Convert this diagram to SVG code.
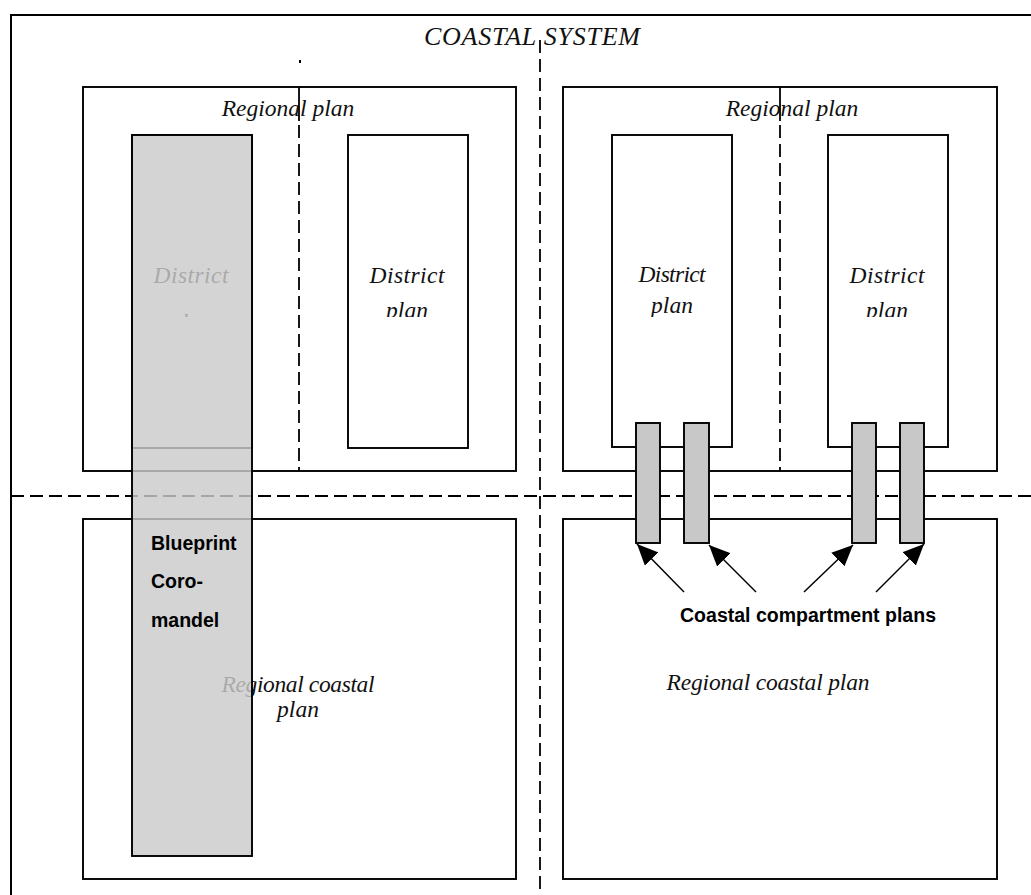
<svg xmlns="http://www.w3.org/2000/svg" width="1031" height="895" viewBox="0 0 1031 895">
  <style>
    .box { fill: #ffffff; stroke: #000000; stroke-width: 1.9; }
    .frame { fill: none; stroke: #000000; stroke-width: 2; }
    .dash { fill: none; stroke: #000000; stroke-width: 1.8; stroke-dasharray: 13 6; }
    .solid { fill: none; stroke: #000000; stroke-width: 1.8; }
    .it { font-family: "Liberation Serif", "Times New Roman", serif; font-style: italic; font-size: 23.5px; fill: #111111; }
    .title { font-size: 26px; }
    .bold { font-family: "Liberation Sans", Arial, sans-serif; font-weight: bold; font-size: 19.5px; fill: #000000; }
    .cmp { fill: #c8c8c8; stroke: #000000; stroke-width: 1.9; }
    .arrow { stroke: #000000; stroke-width: 1.5; fill: none; marker-end: url(#head); }
  </style>
  <defs>
    <marker id="head" viewBox="0 0 21 19" refX="21" refY="9.5" markerWidth="21" markerHeight="19" markerUnits="userSpaceOnUse" orient="auto">
      <path d="M0,0 L21,9.5 L0,19 Z" fill="#000000"/>
    </marker>
    <!-- second text lines of the district boxes are cut off at the bottom -->
    <clipPath id="cut-line"><rect x="0" y="0" width="1031" height="317"/></clipPath>
  </defs>

  <rect width="1031" height="895" fill="#ffffff"/>

  <!-- outer coastal system frame (open to the right and bottom) -->
  <g id="coastal-system">
    <path class="frame" d="M11,895 L11,15 L1031,15"/>
    <text class="it title" x="532" y="45" text-anchor="middle" textLength="216">COASTAL SYSTEM</text>
    <rect x="299" y="60" width="2" height="3" fill="#000000"/>
  </g>

  <!-- regional plans (top) -->
  <g id="regional-plan-left">
    <rect class="box" x="83" y="87" width="433" height="384"/>
    <text class="it" x="288" y="116" text-anchor="middle">Regional plan</text>
  </g>
  <g id="regional-plan-right">
    <rect class="box" x="563" y="87" width="434" height="384"/>
    <text class="it" x="792" y="116" text-anchor="middle">Regional plan</text>
  </g>

  <!-- dividers -->
  <g id="dividers">
    <line class="solid" x1="299" y1="87" x2="299" y2="121"/>
    <line class="dash" x1="299" y1="125" x2="299" y2="471"/>
    <line class="solid" x1="780" y1="87" x2="780" y2="121"/>
    <line class="dash" x1="780" y1="125" x2="780" y2="471"/>
    <line class="dash" x1="11" y1="496" x2="1031" y2="496"/>
    <line class="dash" x1="540" y1="40" x2="540" y2="895"/>
  </g>

  <!-- district plans -->
  <g id="district-plan-1">
    <rect class="box" x="132" y="135" width="120" height="313"/>
    <text class="it" x="191" y="283" text-anchor="middle" textLength="75">District</text>
    <text class="it" x="191" y="330" text-anchor="middle" clip-path="url(#cut-line)">plan</text>
  </g>
  <g id="district-plan-2">
    <rect class="box" x="348" y="135" width="120" height="313"/>
    <text class="it" x="407" y="283" text-anchor="middle" textLength="75">District</text>
    <text class="it" x="407" y="318" text-anchor="middle" clip-path="url(#cut-line)">plan</text>
  </g>
  <g id="district-plan-3">
    <rect class="box" x="612" y="135" width="120" height="312"/>
    <text class="it" x="672" y="282" text-anchor="middle" textLength="67">District</text>
    <text class="it" x="672" y="313" text-anchor="middle" clip-path="url(#cut-line)">plan</text>
  </g>
  <g id="district-plan-4">
    <rect class="box" x="828" y="135" width="120" height="312"/>
    <text class="it" x="887" y="283" text-anchor="middle" textLength="75">District</text>
    <text class="it" x="887" y="318" text-anchor="middle" clip-path="url(#cut-line)">plan</text>
  </g>

  <!-- regional coastal plans (bottom) -->
  <g id="regional-coastal-plan-left">
    <rect class="box" x="83" y="519" width="433" height="360"/>
    <text class="it" x="298" y="692" text-anchor="middle" textLength="153">Regional coastal</text>
    <text class="it" x="298" y="717" text-anchor="middle">plan</text>
  </g>
  <g id="regional-coastal-plan-right">
    <rect class="box" x="563" y="519" width="434" height="360"/>
    <text class="it" x="768" y="690" text-anchor="middle" textLength="203">Regional coastal plan</text>
  </g>

  <!-- Blueprint Coromandel: translucent band over the left plans -->
  <g id="blueprint-coromandel">
    <rect x="132" y="135" width="120" height="721" fill="#cacaca" fill-opacity="0.82"/>
    <rect x="132" y="135" width="120" height="721" fill="none" stroke="#000000" stroke-width="1.9"/>
    <text class="bold" x="151" y="550">Blueprint</text>
    <text class="bold" x="151" y="588">Coro-</text>
    <text class="bold" x="151" y="627">mandel</text>
  </g>

  <!-- coastal compartment plans -->
  <g id="compartment-1"><rect class="cmp" x="636" y="423" width="24" height="120"/></g>
  <g id="compartment-2"><rect class="cmp" x="684" y="423" width="25" height="120"/></g>
  <g id="compartment-3"><rect class="cmp" x="852" y="423" width="24" height="120"/></g>
  <g id="compartment-4"><rect class="cmp" x="900" y="423" width="24" height="120"/></g>

  <g id="compartment-label">
    <text class="bold" x="808" y="622" text-anchor="middle" textLength="256">Coastal compartment plans</text>
  </g>

  <g id="connectors">
    <line class="arrow" x1="684" y1="592" x2="637" y2="544"/>
    <line class="arrow" x1="756" y1="592" x2="709" y2="545"/>
    <line class="arrow" x1="804" y1="592" x2="853" y2="545"/>
    <line class="arrow" x1="876" y1="592" x2="924" y2="544"/>
  </g>
</svg>
